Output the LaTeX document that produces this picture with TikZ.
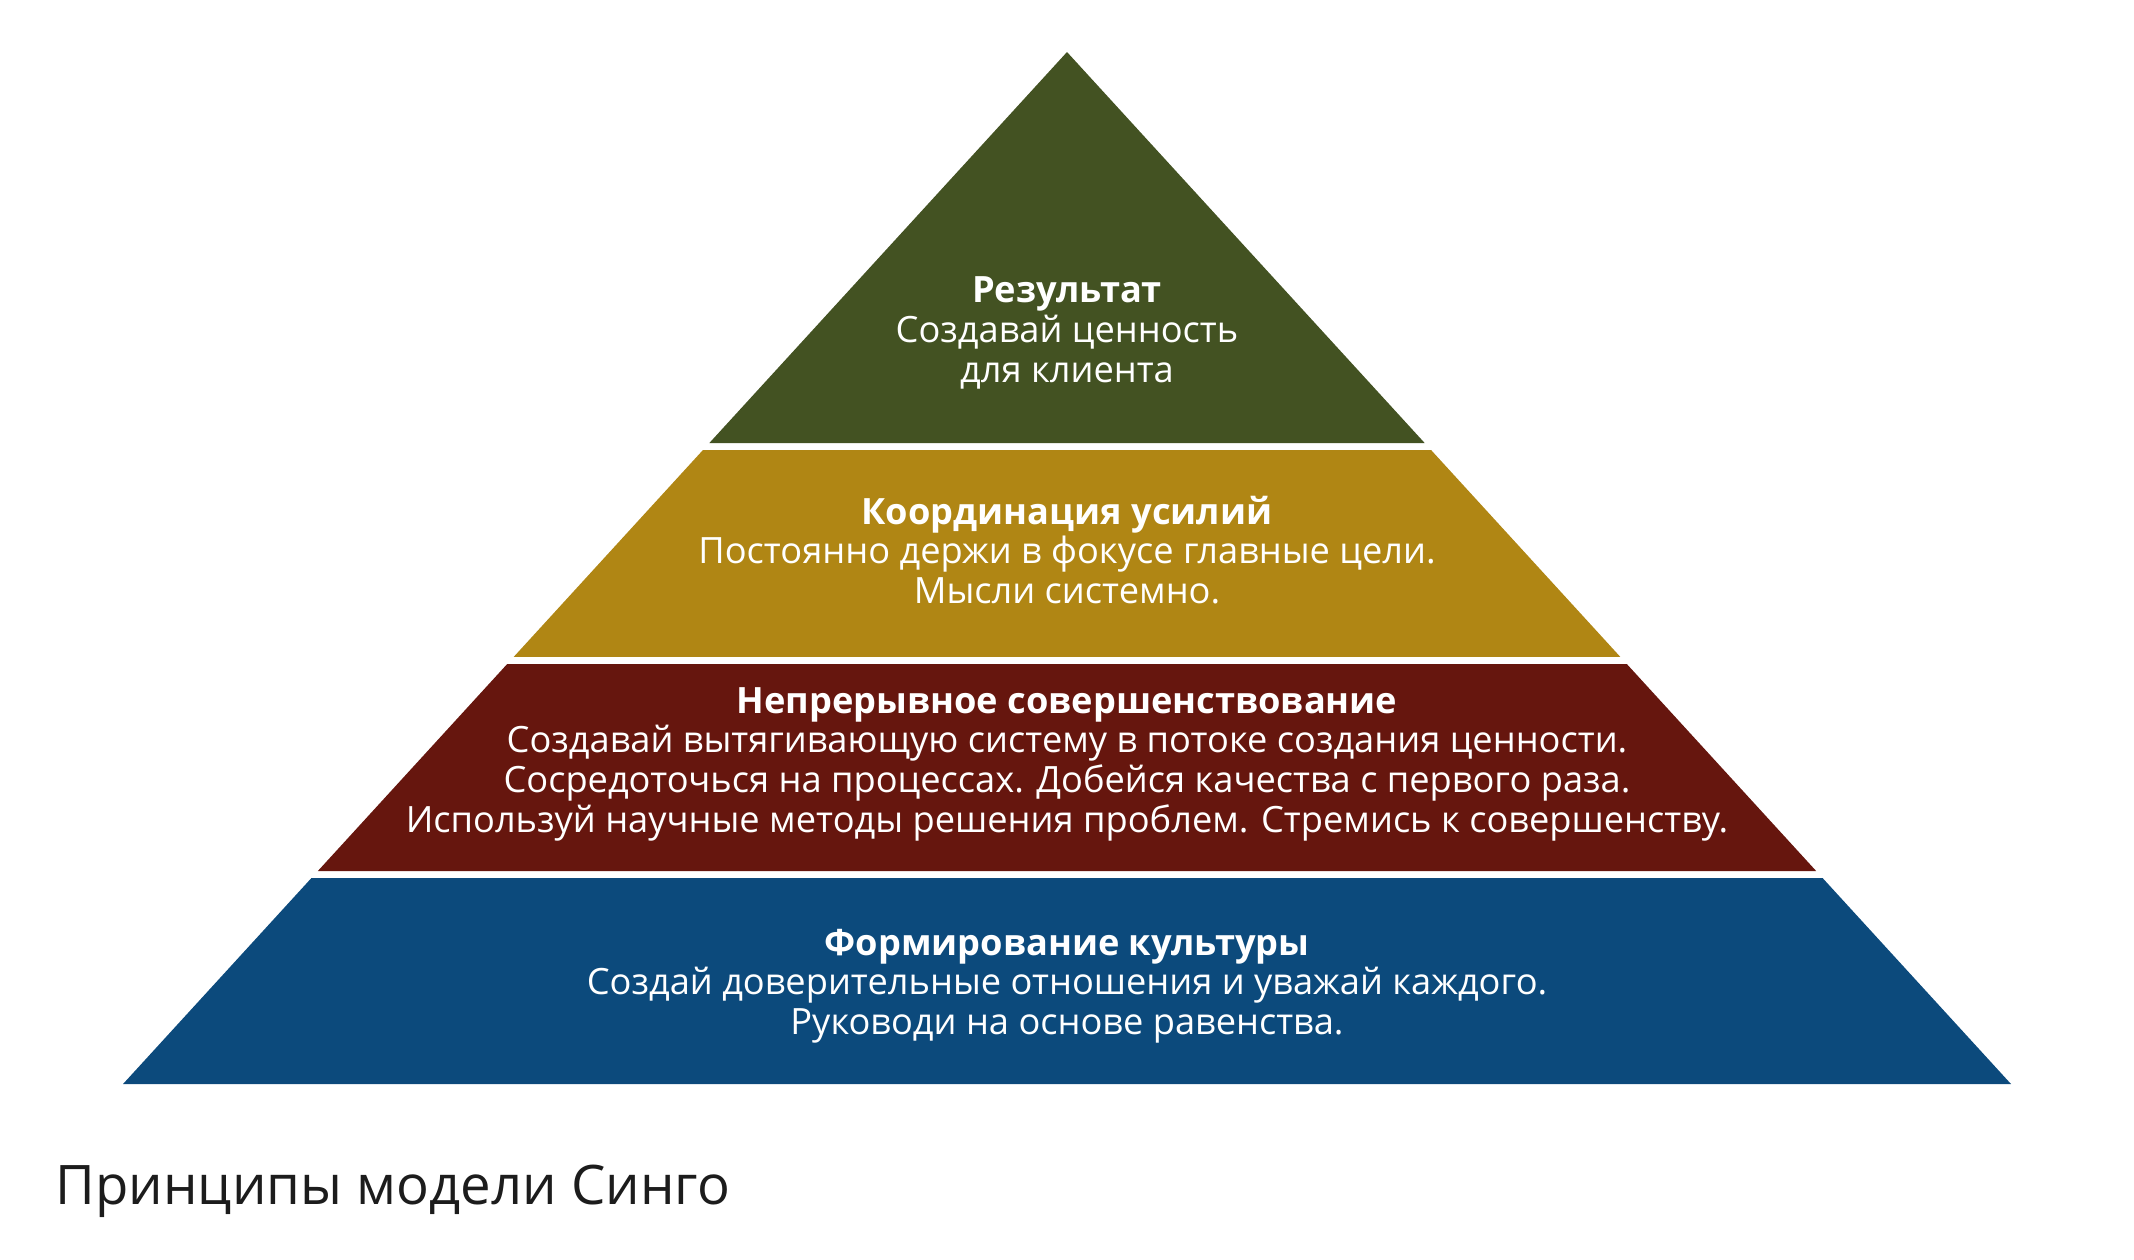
\documentclass[tikz,border=0pt]{standalone}
\usepackage{fontspec}
\setmainfont{Open Sans}
\usetikzlibrary{calc}

\definecolor{resultgreen}{HTML}{435222}
\definecolor{coordgold}{HTML}{B08614}
\definecolor{improvered}{HTML}{66160E}
\definecolor{cultureblue}{HTML}{0C4A7C}
\definecolor{titlegray}{HTML}{1C1C1C}

\begin{document}
\begin{tikzpicture}[
    x=0.01cm, y=-0.01cm,
    label/.style={align=center, text=white, font=\fontsize{10.3}{11.3}\selectfont},
    caption/.style={anchor=base west, text=titlegray, font=\fontsize{15.5}{18}\selectfont, inner sep=0pt}
]
\useasboundingbox (0,0) rectangle (2134,1259);

% Pyramid outline
\coordinate (apex) at (1067,52);
\coordinate (bl) at (123,1084);
\coordinate (br) at (2011,1084);

% Layers (fractions of the height, white gaps between)
\foreach \ta/\tb/\col in {0/0.3789/resultgreen, 0.3857/0.5862/coordgold, 0.5930/0.7936/improvered, 0.8004/1/cultureblue}
  \fill[\col] ($(apex)!\ta!(bl)$) -- ($(apex)!\tb!(bl)$) -- ($(apex)!\tb!(br)$) -- ($(apex)!\ta!(br)$) -- cycle;

% Texts
\node[label] (result) at (1067,333) {\textbf{Результат}\\Создавай ценность\\для клиента};
\node[label] (coord) at (1067,550) {\textbf{Координация усилий}\\Постоянно держи в фокусе главные цели.\\Мысли системно.};
\node[label] (improve) at (1067,764) {\textbf{Непрерывное совершенствование}\\Создавай вытягивающую систему в потоке создания ценности.\\Сосредоточься на процессах. Добейся качества с первого раза.\\Используй научные методы решения проблем. Стремись к совершенству.};
\node[label] (culture) at (1067,986) {\textbf{Формирование культуры}\\Создай доверительные отношения и уважай каждого.\\Руководи на основе равенства.};

\node[caption] (title) at (55,1204) {Принципы модели Синго};

\end{tikzpicture}
\end{document}
